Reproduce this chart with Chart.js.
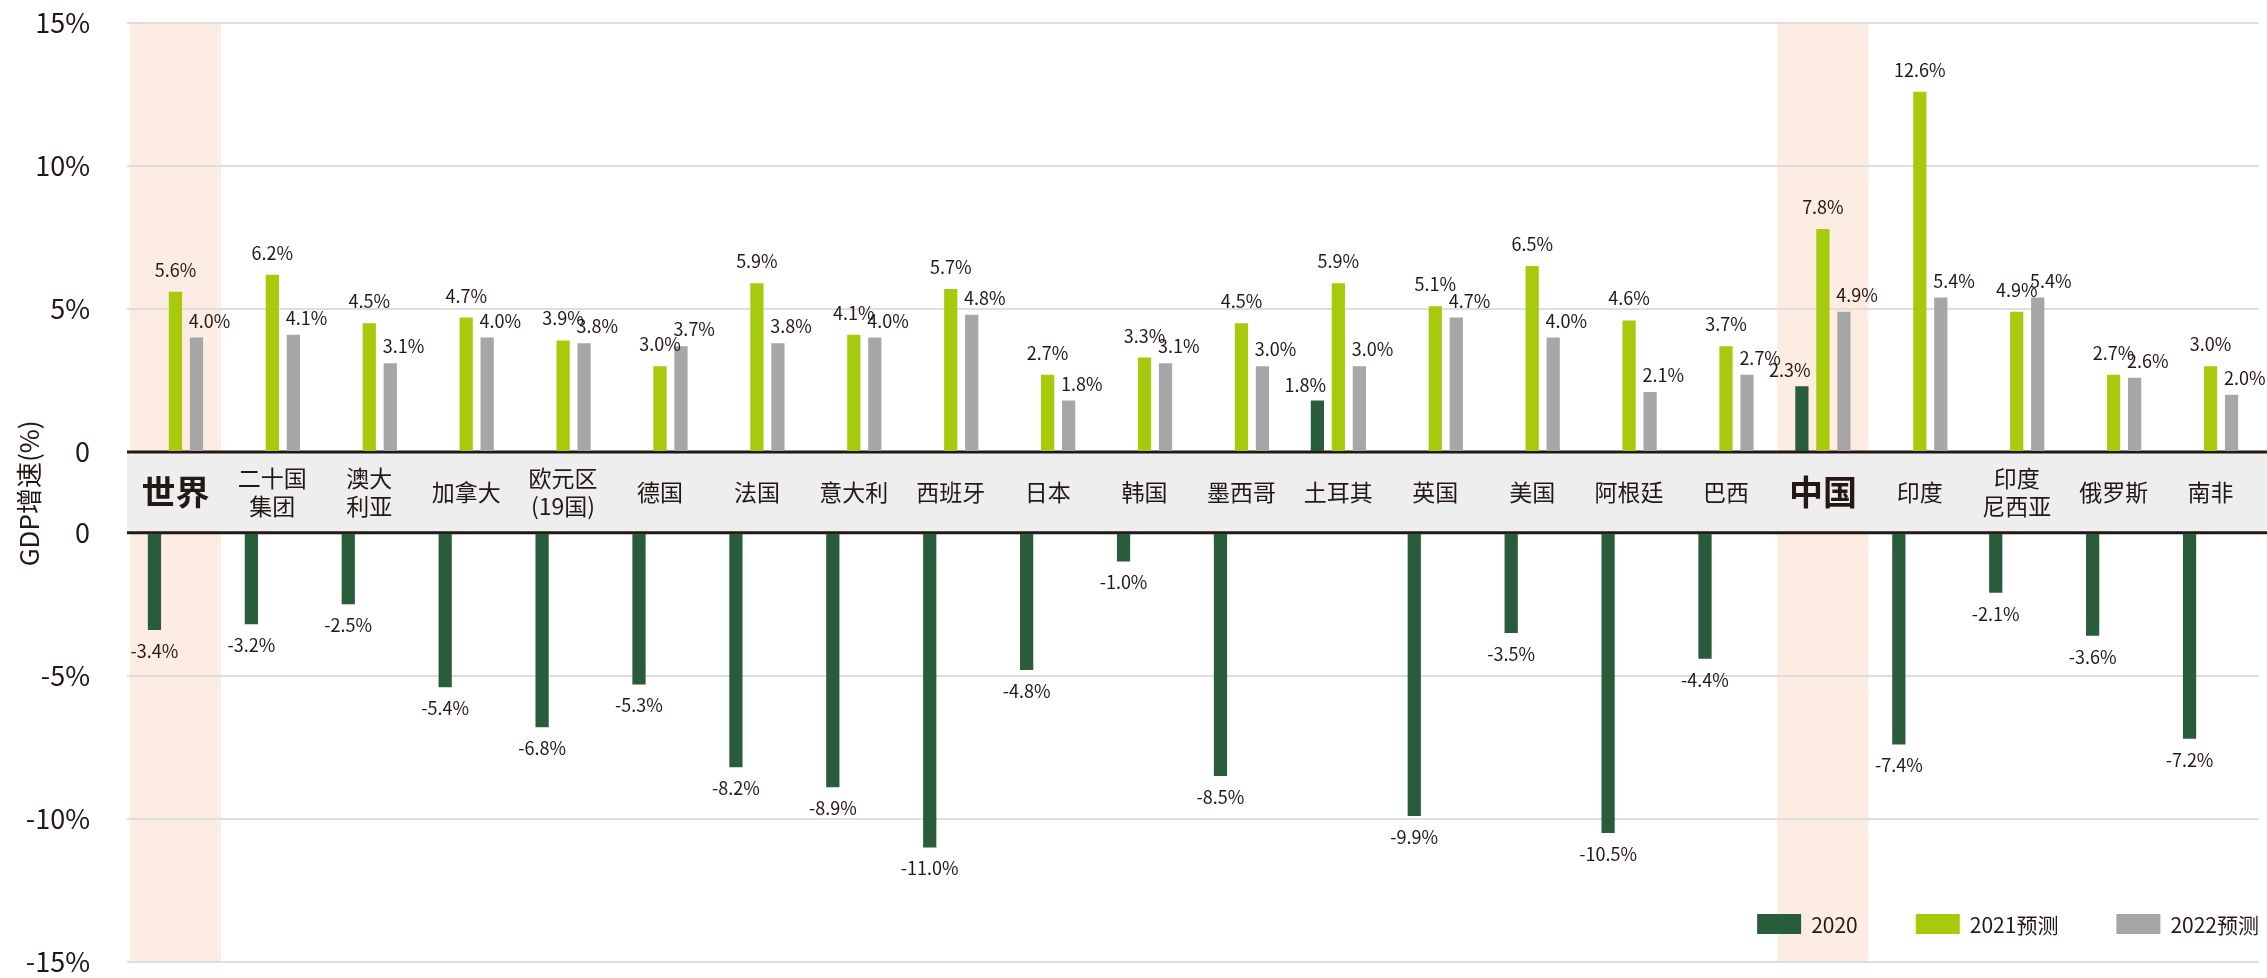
<!DOCTYPE html>
<html lang="zh-CN">
<head>
  <meta charset="UTF-8">
  <title>GDP增速</title>
  <style>
    html, body { margin: 0; padding: 0; background: #ffffff; }
    #wrap { width: 2267px; height: 978px; }
  </style>
</head>
<body>
  <div id="wrap"><canvas id="gdpChart" width="2267" height="978"></canvas></div>

  <script src="https://cdn.jsdelivr.net/npm/chart.js@4.4.3/dist/chart.umd.min.js"></script>
  <script>
    // Categories (each entry = label lines in the middle band)
    const categories = [
      ['世界'], ['二十国', '集团'], ['澳大', '利亚'], ['加拿大'], ['欧元区', '(19国)'],
      ['德国'], ['法国'], ['意大利'], ['西班牙'], ['日本'], ['韩国'], ['墨西哥'],
      ['土耳其'], ['英国'], ['美国'], ['阿根廷'], ['巴西'], ['中国'], ['印度'],
      ['印度', '尼西亚'], ['俄罗斯'], ['南非']
    ];
    const highlighted = ['世界', '中国'];

    // GDP growth, %
    const gdp2020 = [-3.4, -3.2, -2.5, -5.4, -6.8, -5.3, -8.2, -8.9, -11.0, -4.8, -1.0, -8.5,
                     1.8, -9.9, -3.5, -10.5, -4.4, 2.3, -7.4, -2.1, -3.6, -7.2];
    const gdp2021 = [5.6, 6.2, 4.5, 4.7, 3.9, 3.0, 5.9, 4.1, 5.7, 2.7, 3.3, 4.5,
                     5.9, 5.1, 6.5, 4.6, 3.7, 7.8, 12.6, 4.9, 2.7, 3.0];
    const gdp2022 = [4.0, 4.1, 3.1, 4.0, 3.8, 3.7, 3.8, 4.0, 4.8, 1.8, 3.1, 3.0,
                     3.0, 4.7, 4.0, 2.1, 2.7, 4.9, 5.4, 5.4, 2.6, 2.0];

    const seriesNames = ['2020', '2021预测', '2022预测'];
    const seriesColors = ['#295c3b', '#a8ca0c', '#a6a6a6'];

    const topTicks = [0, 5, 10, 15];
    const bottomTicks = [-15, -10, -5, 0];
    const yTitle = 'GDP增速(%)';

    const FONT = "'Noto Sans CJK SC', 'Noto Sans', sans-serif";
    const INK = '#231815';

    const labels = categories.map(c => c.join(''));
    const fmt = v => v.toFixed(1) + '%';
    const tickFmt = v => (v === 0 ? '0' : v + '%');

    // shaded columns + grey label band
    const bandPlugin = {
      id: 'bands',
      beforeDraw(chart) {
        const { ctx, chartArea, scales } = chart;
        const x = scales.x;
        const colW = (chartArea.right - chartArea.left) / labels.length;
        ctx.save();
        ctx.fillStyle = '#fcece2';
        highlighted.forEach(name => {
          const cx = x.getPixelForValue(labels.indexOf(name));
          const w = colW * 0.94;
          ctx.fillRect(cx - w / 2, chartArea.top, w, chartArea.bottom - chartArea.top);
        });
        ctx.restore();
      },
      beforeDatasetsDraw(chart) {
        const { ctx, chartArea, scales } = chart;
        const top = scales.yTop.bottom;
        const bot = scales.yBot.top;
        const right = chart.width;
        ctx.save();
        ctx.fillStyle = '#eeeeee';
        ctx.fillRect(chartArea.left, top, right - chartArea.left, bot - top);
        ctx.strokeStyle = INK;
        ctx.lineWidth = 3;
        ctx.beginPath();
        ctx.moveTo(chartArea.left, top); ctx.lineTo(right, top);
        ctx.moveTo(chartArea.left, bot); ctx.lineTo(right, bot);
        ctx.stroke();

        // category names
        const mid = (top + bot) / 2;
        ctx.fillStyle = INK;
        ctx.textAlign = 'center';
        ctx.textBaseline = 'middle';
        categories.forEach((lines, i) => {
          const cx = scales.x.getPixelForValue(i);
          const bold = highlighted.includes(labels[i]);
          ctx.font = bold ? `bold 34px ${FONT}` : `23px ${FONT}`;
          const lh = 28;
          lines.forEach((ln, j) => {
            const y = mid + (j - (lines.length - 1) / 2) * lh;
            ctx.fillText(ln, cx, y);
          });
        });

        // rotated axis title, centred on the band
        ctx.font = `26px ${FONT}`;
        ctx.translate(29, mid + 1);
        ctx.rotate(-Math.PI / 2);
        ctx.fillText(yTitle, 0, 0);
        ctx.restore();
      }
    };

    // value labels on bars
    const valuePlugin = {
      id: 'values',
      afterDatasetsDraw(chart) {
        const { ctx } = chart;
        ctx.save();
        ctx.font = `18px ${FONT}`;
        ctx.fillStyle = INK;
        ctx.textBaseline = 'alphabetic';
        chart.data.datasets.forEach((ds, di) => {
          const meta = chart.getDatasetMeta(di);
          meta.data.forEach((el, i) => {
            const v = ds.data[i];
            if (v === null || v === undefined) return;
            const half = el.width / 2;
            if (v < 0) {
              ctx.textAlign = 'center';
              ctx.fillText(fmt(v), el.x, el.y + 28);
            } else if (ds.series === 0) {
              ctx.textAlign = 'right';
              ctx.fillText(fmt(v), el.x + half + 2, el.y - 9);
            } else if (ds.series === 1) {
              ctx.textAlign = 'center';
              ctx.fillText(fmt(v), el.x, el.y - 15);
            } else {
              ctx.textAlign = 'left';
              ctx.fillText(fmt(v), el.x - half - 1, el.y - 10);
            }
          });
        });
        ctx.restore();
      }
    };

    // legend inside the lower panel, bottom right
    const legendPlugin = {
      id: 'cornerLegend',
      afterDraw(chart) {
        const { ctx, chartArea } = chart;
        ctx.save();
        ctx.font = `21px ${FONT}`;
        const boxW = 44, boxH = 20, gap = 10, itemGap = 58;
        const widths = seriesNames.map(n => ctx.measureText(n).width);
        let total = 0;
        widths.forEach((w, i) => { total += boxW + gap + w + (i < widths.length - 1 ? itemGap : 0); });
        let x = chartArea.right - total;
        const cy = 924;
        ctx.textBaseline = 'middle';
        ctx.textAlign = 'left';
        seriesNames.forEach((n, i) => {
          ctx.fillStyle = seriesColors[i];
          ctx.fillRect(x, cy - boxH / 2, boxW, boxH);
          ctx.fillStyle = INK;
          ctx.fillText(n, x + boxW + gap, cy + 1);
          x += boxW + gap + widths[i] + itemGap;
        });
        ctx.restore();
      }
    };

    const fixWidth = s => { s.width = 127; };
    const gridStyle = {
      color: '#dedede', lineWidth: 2,
      drawTicks: true, tickLength: 37, tickColor: 'rgba(0,0,0,0)'
    };
    const tickStyle = {
      color: INK,
      font: { family: FONT, size: 27 },
      padding: 0,
      callback: v => tickFmt(v)
    };

    new Chart(document.getElementById('gdpChart'), {
      type: 'bar',
      data: {
        labels: labels,
        datasets: [
          { label: seriesNames[0], series: 0, data: gdp2020.map(v => (v > 0 ? v : null)),
            yAxisID: 'yTop', stack: 's2020', backgroundColor: seriesColors[0] },
          { label: seriesNames[0], series: 0, data: gdp2020.map(v => (v < 0 ? v : null)),
            yAxisID: 'yBot', stack: 's2020', backgroundColor: seriesColors[0] },
          { label: seriesNames[1], series: 1, data: gdp2021,
            yAxisID: 'yTop', stack: 's2021', backgroundColor: seriesColors[1] },
          { label: seriesNames[2], series: 2, data: gdp2022,
            yAxisID: 'yTop', stack: 's2022', backgroundColor: seriesColors[2] }
        ]
      },
      options: {
        responsive: false,
        animation: false,
        events: [],
        categoryPercentage: 0.65,
        barPercentage: 0.63,
        layout: { padding: { top: 23, bottom: 15, left: 0, right: 8 } },
        plugins: {
          legend: { display: false },
          tooltip: { enabled: false }
        },
        scales: {
          x: { display: false },
          yTop: {
            type: 'linear', position: 'left', stack: 'split', stackWeight: 430, weight: 3,
            stacked: false, min: topTicks[0], max: topTicks[topTicks.length - 1],
            afterBuildTicks: s => { s.ticks = topTicks.map(v => ({ value: v })); },
            ticks: tickStyle, grid: gridStyle, border: { display: false },
            afterFit: fixWidth
          },
          yMid: {
            type: 'linear', position: 'left', stack: 'split', stackWeight: 81, weight: 2,
            min: 0, max: 1,
            ticks: { display: false }, grid: { display: false }, border: { display: false },
            afterFit: fixWidth
          },
          yBot: {
            type: 'linear', position: 'left', stack: 'split', stackWeight: 430, weight: 1,
            stacked: false, min: bottomTicks[0], max: bottomTicks[bottomTicks.length - 1],
            afterBuildTicks: s => { s.ticks = bottomTicks.map(v => ({ value: v })); },
            ticks: tickStyle, grid: gridStyle, border: { display: false },
            afterFit: fixWidth
          }
        }
      },
      plugins: [bandPlugin, valuePlugin, legendPlugin]
    });
  </script>
</body>
</html>
